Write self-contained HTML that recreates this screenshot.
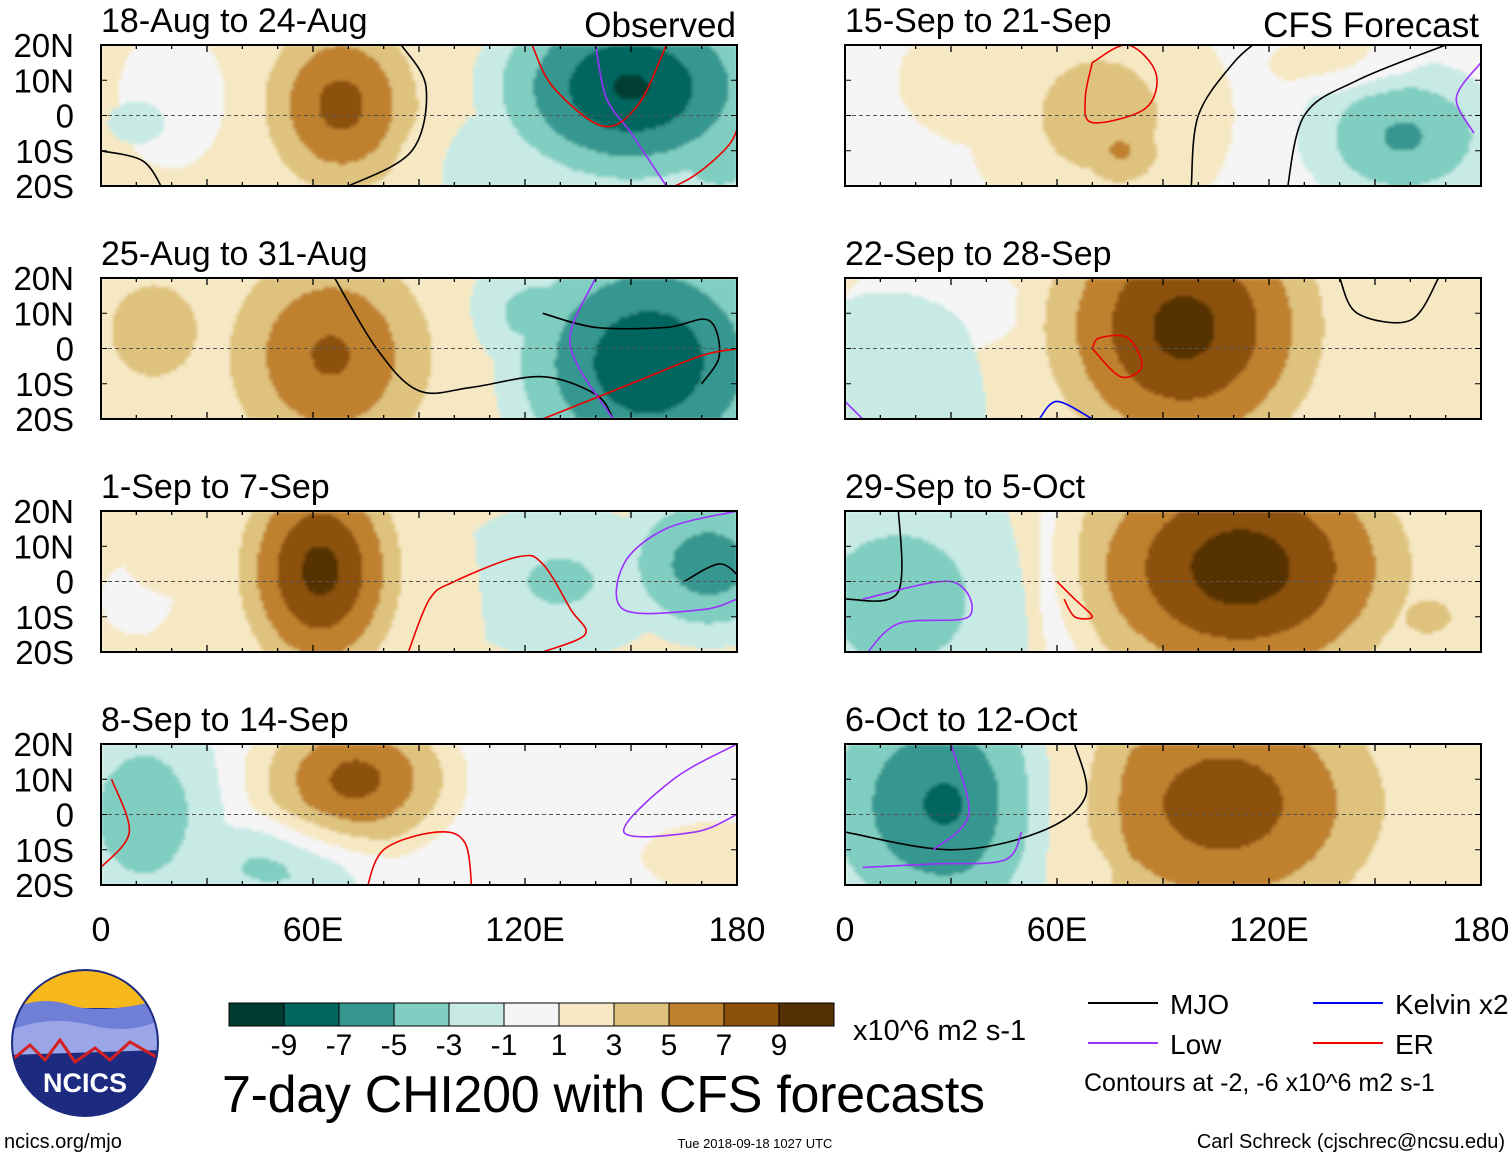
<!DOCTYPE html>
<html><head><meta charset="utf-8">
<style>
body{margin:0;background:#fff;}
svg{display:block;font-family:"Liberation Sans",sans-serif;}
</style></head>
<body>
<svg id="fig" width="1510" height="1158" viewBox="0 0 1510 1158" xmlns="http://www.w3.org/2000/svg">
<defs>
<filter id="soft" x="-5%" y="-5%" width="110%" height="110%"><feGaussianBlur stdDeviation="1.5"/></filter>
</defs>
<g id="panels"></g>
<g id="bottom"></g>
</svg>
<script>
// colorbar levels and colors
const levels=[-11,-9,-7,-5,-3,-1,1,3,5,7,9,11];
const levelLabels=["-9","-7","-5","-3","-1","1","3","5","7","9"];
const colors=["#003c30","#01665e","#35978f","#80cdc1","#c7eae5","#f5f5f5","#f6e8c3","#dfc27d","#bf812d","#8c510a","#543005"];
const lonTicks=[0,60,120,180];
const lonTickLabels=["0","60E","120E","180"];
const latTicks=[20,10,0,-10,-20];
const latTickLabels=["20N","10N","0","10S","20S"];
const panelTitles=["18-Aug to 24-Aug","25-Aug to 31-Aug","1-Sep to 7-Sep","8-Sep to 14-Sep","15-Sep to 21-Sep","22-Sep to 28-Sep","29-Sep to 5-Oct","6-Oct to 12-Oct"];
const panelBase=[1.5,1.5,1.5,0,0,1.5,1.5,1.5];
// anomaly blobs per panel: [lon, lat, lonRadius, latRadius, peakValue]
const blobs=[
 [[20,5,15,20,0.5],[68,3,28,32,8],[150,8,45,32,-9.5],[175,-5,20,25,-5],[110,-12,22,12,-2],[10,-2,8,6,-1.5]],
 [[15,5,28,30,4],[65,-2,38,40,7.5],[155,-4,45,42,-9],[125,10,25,18,-4]],
 [[25,10,20,15,2.5],[62,3,28,38,10],[95,-5,12,20,3.5],[130,0,32,22,-3.5],[172,5,28,24,-6.5],[10,-5,10,10,0]],
 [[72,10,32,24,8],[12,0,24,32,-4.5],[48,-15,28,14,-3.5],[175,-12,22,10,2]],
 [[45,10,30,20,2.5],[72,0,38,36,4],[78,-10,16,14,5.5],[158,-6,30,22,-5.5],[140,15,20,8,2],[60,-18,10,6,0]],
 [[96,6,48,48,10],[75,-5,12,12,0],[12,-12,30,28,-3],[25,12,25,14,0],[165,5,25,20,3]],
 [[112,4,58,44,10.5],[165,-10,22,16,3.5],[15,-5,45,42,-4],[65,5,10,40,0]],
 [[107,3,58,45,8.5],[28,3,42,42,-7.5],[60,-15,15,10,-2],[175,-15,10,10,3]]
];
// contour lines per panel: [color, [lon,lat,...]]
const contours=[
 [["#000",[85,20,92,8,88,-10,70,-20,62,-22]],["#9b30ff",[140,20,143,5,150,-5,160,-20]],["#e00",[122,20,128,8,142,-3,152,3,160,20]],["#e00",[158,-22,168,-17,178,-8,181,0]],["#000",[0,-10,12,-13,18,-22]]],
 [["#000",[65,22,78,0,90,-12,105,-11,125,-8,140,-13,145,-20]],["#000",[125,10,140,6,160,6,172,8,175,-2,170,-10]],["#9b30ff",[140,20,133,5,135,-5,145,-20]],["#e00",[125,-20,150,-10,170,-2,181,0]]],
 [["#e00",[87,-20,93,-5,100,0,118,7,125,5,133,-8,137,-15,125,-20]],["#9b30ff",[180,20,160,15,148,5,148,-8,170,-8,180,-5]],["#000",[165,0,175,5,181,1]]],
 [["#e00",[3,10,8,-5,0,-15]],["#e00",[75,-22,80,-10,95,-5,103,-8,105,-22]],["#9b30ff",[180,20,162,10,148,-5,168,-5,180,0]]],
 [["#e00",[70,15,80,20,88,12,85,2,70,-2,68,5,70,15]],["#000",[98,-20,100,0,110,15,118,22]],["#000",[125,-22,130,0,145,10,170,20]],["#9b30ff",[178,-5,173,5,180,15]]],
 [["#e00",[70,0,78,-8,84,-5,80,3,72,3,70,0]],["#000",[140,20,145,10,160,8,168,20]],["#00f",[55,-20,60,-15,70,-20]],["#9b30ff",[0,-15,5,-20]]],
 [["#000",[15,22,15,-3,0,-5]],["#9b30ff",[5,-22,15,-12,35,-10,30,0,5,-5]],["#e00",[60,0,65,-5,70,-10,65,-10,62,-5]]],
 [["#000",[0,-5,30,-10,55,-5,68,5,65,20]],["#9b30ff",[5,-15,25,-14,45,-13,50,-5]],["#9b30ff",[30,20,35,0,25,-10]]]
];
const NS="http://www.w3.org/2000/svg";
function mk(tag,attrs,parent){const e=document.createElementNS(NS,tag);for(const k in attrs)e.setAttribute(k,attrs[k]);if(parent)parent.appendChild(e);return e;}
const PW=636,PH=141;
function xScale(p,lon){return p.x+lon/180*PW;}
function yScale(p,lat){return p.y+(20-lat)/40*PH;}
function colorIndex(v){for(let i=0;i<colors.length;i++){if(v<levels[i+1])return i;}return colors.length-1;}
function fieldValue(i,lon,lat){
 let pos=0,neg=0,over=null;
 blobs[i].forEach(b=>{
  const [bl,ba,rl,ra,v]=b;
  const d=Math.sqrt(((lon-bl)/rl)**2+((lat-ba)/ra)**2);
  if(Math.abs(v)<1){if(d<1)over=v;return;}
  let val;
  if(d<=1)val=Math.sign(v)*(Math.abs(v)-(Math.abs(v)-1)*Math.pow(d,1.3));
  else val=Math.sign(v)*Math.max(0,1-(d-1)/0.3);
  if(val>pos)pos=val;if(val<neg)neg=val;
 });
 const tot=pos+neg;
 if(Math.abs(tot)>=1)return tot;
 if(over!==null)return over;
 return panelBase[i];
}
function smoothPath(pts){
 let d='M'+pts[0][0].toFixed(1)+' '+pts[0][1].toFixed(1);
 for(let i=0;i<pts.length-1;i++){
  const p0=pts[i-1]||pts[i],p1=pts[i],p2=pts[i+1],p3=pts[i+2]||p2;
  const c1=[p1[0]+(p2[0]-p0[0])/6,p1[1]+(p2[1]-p0[1])/6];
  const c2=[p2[0]-(p3[0]-p1[0])/6,p2[1]-(p3[1]-p1[1])/6];
  d+='C'+c1.map(v=>v.toFixed(1)).join(' ')+' '+c2.map(v=>v.toFixed(1)).join(' ')+' '+p2[0].toFixed(1)+' '+p2[1].toFixed(1);
 }
 return d;
}
const panelsG=document.getElementById('panels');
const pos=[];
const rowsY=[45,278,511,744];
for(let i=0;i<8;i++)pos.push({x:i<4?101:845,y:rowsY[i%4]});
const CELL=3;
pos.forEach((p,i)=>{
 const g=mk('g',{},panelsG);
 
 
 const cid='clip'+i;
 const cp=mk('clipPath',{id:cid},g);mk('rect',{x:p.x,y:p.y,width:PW,height:PH},cp);
 const inner=mk('g',{'clip-path':'url(#'+cid+')'},g);
 const fg=mk('g',{filter:'url(#soft)'},inner);
 
 
 for(let py=0;py<PH;py+=CELL){
  const lat=20-(py+CELL/2)/PH*40;
  let runStart=0,runC=-1;
  for(let px=0;px<=PW;px+=CELL){
   const c=px<PW?colorIndex(fieldValue(i,(px+CELL/2)/PW*180,lat)):-2;
   if(c!==runC){
    if(runC>=0)mk('rect',{x:p.x+runStart,y:p.y+py,width:px-runStart+0.6,height:CELL+0.6,fill:colors[runC]},fg);
    runStart=px;runC=c;
   }
  }
 }
 contours[i].forEach(c=>{
   const pts=[];const a=c[1];
   for(let k=0;k<a.length;k+=2)pts.push([xScale(p,a[k]),yScale(p,a[k+1])]);
   const l=mk('path',{d:smoothPath(pts),fill:'none',stroke:c[0],'stroke-width':1.6,'stroke-linejoin':'round'},inner);
   
   
 });
 const eq=mk('line',{x1:p.x,x2:p.x+PW,y1:yScale(p,0),y2:yScale(p,0),stroke:'#555','stroke-dasharray':'4,3','stroke-width':1},inner);
 
 
 mk('rect',{x:p.x,y:p.y,width:PW,height:PH,fill:'none',stroke:'#000','stroke-width':2},g);
 for(let lon=0;lon<=180;lon+=10){const x=xScale(p,lon);const L=lon%30==0?7:4;
   mk('line',{x1:x,x2:x,y1:p.y,y2:p.y+L,stroke:'#000','stroke-width':1.3},g);
   mk('line',{x1:x,x2:x,y1:p.y+PH,y2:p.y+PH-L,stroke:'#000','stroke-width':1.3},g);}
 latTicks.forEach(lat=>{const y=yScale(p,lat);
   mk('line',{x1:p.x,x2:p.x+6,y1:y,y2:y,stroke:'#000'},g);
   mk('line',{x1:p.x+PW,x2:p.x+PW-6,y1:y,y2:y,stroke:'#000'},g);});
 const t=mk('text',{x:p.x,y:p.y-13,'font-size':34},g);t.textContent=panelTitles[i];
 
 
 if(i<4){latTicks.forEach((lat,k)=>{const tt=mk('text',{x:74,y:yScale(p,lat)+12,'font-size':33,'text-anchor':'end'},g);tt.textContent=latTickLabels[k];
   
   });}
 if(i%4==3){lonTicks.forEach((lon,k)=>{const tt=mk('text',{x:xScale(p,lon),y:941,'font-size':34,'text-anchor':'middle'},g);tt.textContent=lonTickLabels[k];
   
   });}
});
function label(txt,x,y,size,anchor,name,parent){const t=mk('text',{x:x,y:y,'font-size':size,'text-anchor':anchor||'start'},parent);t.textContent=txt;return t;}
label('Observed',736,37,35,'end','observed-label',panelsG);
label('CFS Forecast',1479,37,35,'end','cfs-forecast-label',panelsG);
const B=document.getElementById('bottom');
const cb=mk('g',{},B);
const cbx=229,cbw=55,cby=1003,cbh=23;
colors.forEach((c,i)=>{mk('rect',{x:cbx+i*cbw,y:cby,width:cbw,height:cbh,fill:c,stroke:'#000','stroke-width':1},cb);});
levelLabels.forEach((s,i)=>{label(s,cbx+(i+1)*cbw,1055,30,'middle','colorbar-tick-label',cb);});
label('x10^6 m2 s-1',853,1040,29,'start','colorbar-units',B);
const ttl=label('7-day CHI200 with CFS forecasts',222,1112,52,'start','figure-title',B);
ttl.setAttribute('textLength','763');
const lg=mk('g',{},B);
[[1088,1003,'#000','MJO'],[1088,1043,'#9b30ff','Low'],[1313,1003,'#0000ee','Kelvin x2'],[1313,1043,'#ee0000','ER']].forEach(e=>{
 mk('line',{x1:e[0],x2:e[0]+70,y1:e[1],y2:e[1],stroke:e[2],'stroke-width':2},lg);
 label(e[3],e[0]+82,e[1]+11,28,'start','legend-entry',lg);});
label('Contours at -2, -6 x10^6 m2 s-1',1084,1091,25,'start','contour-note',B);
label('ncics.org/mjo',4,1148,20,'start','site-url',B);
label('Tue 2018-09-18 1027 UTC',755,1148,13,'middle','timestamp',B);
label('Carl Schreck (cjschrec@ncsu.edu)',1505,1148,20,'end','author-credit',B);
const lo=mk('g',{},B);
const lc=mk('clipPath',{id:'logoclip'},lo);mk('circle',{cx:85,cy:1043,r:73},lc);
const li=mk('g',{'clip-path':'url(#logoclip)'},lo);
mk('rect',{x:10,y:968,width:150,height:150,fill:'#1c2a80'},li);
mk('rect',{x:10,y:968,width:150,height:40,fill:'#f7b81c'},li);
mk('path',{d:'M10 1010 Q40 995 70 1005 T160 1000 L160 1030 L10 1035Z',fill:'#6f7fd6'},li);
mk('path',{d:'M10 1030 Q50 1015 90 1025 T160 1020 L160 1050 L10 1055Z',fill:'#9aa6e8'},li);
mk('path',{d:'M12 1060 L30 1045 L45 1060 L60 1040 L75 1062 L95 1048 L110 1060 L130 1042 L158 1058',fill:'none',stroke:'#d32020','stroke-width':3},li);
mk('circle',{cx:85,cy:1043,r:73,fill:'none',stroke:'#1c2a80','stroke-width':2},lo);
const nt=label('NCICS',85,1092,27,'middle','logo-text',lo);nt.setAttribute('fill','#fff');nt.setAttribute('font-weight','bold');
</script>
</body></html>
